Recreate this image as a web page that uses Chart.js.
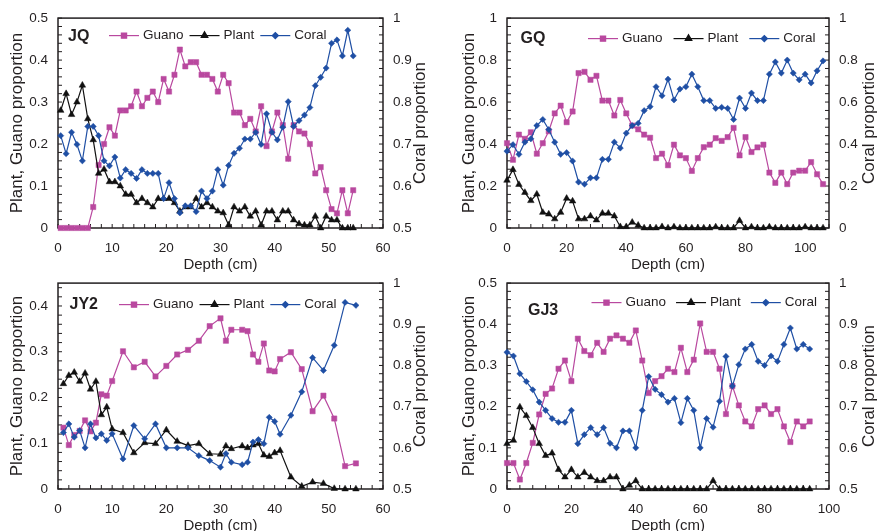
<!DOCTYPE html>
<html>
<head>
<meta charset="utf-8">
<title>Guano, plant and coral proportions by depth</title>
<script src="https://cdn.jsdelivr.net/npm/chart.js@4.4.1/dist/chart.umd.min.js"></script>
<style>
  html, body { margin: 0; padding: 0; background: #fff; }
  body { position: relative; width: 878px; height: 531px; overflow: hidden; }
  canvas { position: absolute; }
</style>
</head>
<body>
<canvas id="chartJQ" width="439" height="275" style="left:0;top:0"></canvas>
<canvas id="chartGQ" width="439" height="275" style="left:439px;top:0"></canvas>
<canvas id="chartJY2" width="439" height="280" style="left:0;top:265px"></canvas>
<canvas id="chartGJ3" width="439" height="280" style="left:439px;top:265px"></canvas>
<script>
/* ---------- data ---------- */
// JQ core, 1 cm slices
const jqDepth = [0.5, 1.5, 2.5, 3.5, 4.5, 5.5, 6.5, 7.5, 8.5, 9.5, 10.5, 11.5, 12.5, 13.5, 14.5,
  15.5, 16.5, 17.5, 18.5, 19.5, 20.5, 21.5, 22.5, 23.5, 24.5, 25.5, 26.5, 27.5, 28.5, 29.5,
  30.5, 31.5, 32.5, 33.5, 34.5, 35.5, 36.5, 37.5, 38.5, 39.5, 40.5, 41.5, 42.5, 43.5, 44.5,
  45.5, 46.5, 47.5, 48.5, 49.5, 50.5, 51.5, 52.5, 53.5, 54.5];
const jqGuano = [0, 0, 0, 0, 0, 0, 0.05, 0.15, 0.20, 0.24, 0.22, 0.28, 0.28, 0.29, 0.325,
  0.29, 0.31, 0.325, 0.30, 0.355, 0.325, 0.365, 0.425, 0.385, 0.395, 0.395, 0.365, 0.365, 0.355, 0.325,
  0.365, 0.345, 0.275, 0.275, 0.245, 0.26, 0.23, 0.29, 0.195, 0.23, 0.275, 0.245, 0.165, 0.245, 0.23,
  0.225, 0.20, 0.13, 0.145, 0.09, 0.045, 0.035, 0.09, 0.035, 0.09];
const jqPlant = [0.28, 0.32, 0.27, 0.30, 0.34, 0.26, 0.21, 0.13, 0.14, 0.11, 0.11, 0.10, 0.08, 0.08, 0.06,
  0.07, 0.06, 0.05, 0.07, 0.07, 0.07, 0.06, 0.04, 0.05, 0.05, 0.07, 0.05, 0.06, 0.05, 0.04,
  0.036, 0.007, 0.05, 0.04, 0.05, 0.028, 0.04, 0.007, 0.04, 0.04, 0.019, 0.04, 0.04, 0.019, 0.01,
  0.007, 0.007, 0.028, 0, 0.028, 0.019, 0.019, 0, 0, 0];
const jqCoral = [0.720, 0.677, 0.728, 0.699, 0.660, 0.742, 0.742, 0.720, 0.660, 0.648, 0.669, 0.619, 0.639, 0.630, 0.618,
  0.639, 0.630, 0.630, 0.630, 0.570, 0.608, 0.570, 0.536, 0.553, 0.553, 0.539, 0.588, 0.570, 0.588, 0.639,
  0.602, 0.649, 0.678, 0.690, 0.712, 0.712, 0.728, 0.699, 0.772, 0.728, 0.710, 0.740, 0.801, 0.742, 0.756,
  0.769, 0.787, 0.839, 0.859, 0.881, 0.940, 0.948, 0.910, 0.971, 0.910];

// GQ core, 2 cm slices
const gqDepth = [0, 2, 4, 6, 8, 10, 12, 14, 16, 18, 20, 22, 24, 26, 28, 30, 32, 34, 36, 38,
  40, 42, 44, 46, 48, 50, 52, 54, 56, 58, 60, 62, 64, 66, 68, 70, 72, 74, 76, 78,
  80, 82, 84, 86, 88, 90, 92, 94, 96, 98, 100, 102, 104, 106];
const gqGuano = [0.404, 0.325, 0.445, 0.425, 0.456, 0.354, 0.404, 0.461, 0.546, 0.583,
  0.504, 0.555, 0.738, 0.744, 0.706, 0.725, 0.607, 0.607, 0.536, 0.610,
  0.546, 0.488, 0.470, 0.445, 0.430, 0.333, 0.354, 0.299, 0.397, 0.346,
  0.333, 0.272, 0.333, 0.385, 0.397, 0.428, 0.415, 0.433, 0.477, 0.346,
  0.433, 0.362, 0.384, 0.397, 0.264, 0.215, 0.264, 0.209, 0.264, 0.273,
  0.273, 0.314, 0.256, 0.209];
const gqPlant = [0.227, 0.278, 0.207, 0.169, 0.130, 0.161, 0.074, 0.066, 0.043, 0.074,
  0.141, 0.128, 0.043, 0.043, 0.057, 0.038, 0.070, 0.070, 0.057, 0.006,
  0.006, 0.027, 0.013, 0, 0, 0, 0.006, 0, 0.005, 0,
  0, 0, 0, 0, 0, 0.005, 0, 0, 0, 0.035,
  0, 0.005, 0, 0, 0.005, 0, 0, 0, 0, 0,
  0.005, 0, 0, 0];
const gqCoral = [0.366, 0.397, 0.351, 0.409, 0.425, 0.488, 0.517, 0.469, 0.409, 0.351,
  0.359, 0.319, 0.219, 0.209, 0.239, 0.239, 0.327, 0.327, 0.409, 0.381,
  0.452, 0.488, 0.499, 0.559, 0.578, 0.673, 0.630, 0.709, 0.610, 0.662,
  0.673, 0.733, 0.673, 0.607, 0.607, 0.570, 0.575, 0.570, 0.517, 0.619,
  0.570, 0.643, 0.607, 0.607, 0.733, 0.791, 0.738, 0.800, 0.738, 0.706,
  0.733, 0.691, 0.749, 0.796];

// JY2 core
const jy2Depth = [1, 2, 3, 4, 5, 6, 7, 8, 9, 10, 12, 14, 16, 18, 20, 22, 24, 26, 28, 30,
  31, 32, 34, 35, 36, 37, 38, 39, 40, 41, 43, 45, 47, 49, 51, 53, 55];
const jy2Guano = [0.134, 0.096, 0.118, 0.127, 0.150, 0.126, 0.145, 0.207, 0.204, 0.236,
  0.301, 0.266, 0.278, 0.246, 0.269, 0.294, 0.304, 0.324, 0.356, 0.373,
  0.324, 0.348, 0.348, 0.345, 0.294, 0.278, 0.318, 0.259, 0.257, 0.284,
  0.299, 0.262, 0.170, 0.204, 0.154, 0.050, 0.056];
const jy2Plant = [0.230, 0.248, 0.255, 0.235, 0.253, 0.218, 0.235, 0.162, 0.179, 0.131,
  0.123, 0.079, 0.101, 0.099, 0.129, 0.104, 0.095, 0.099, 0.077, 0.076,
  0.094, 0.088, 0.094, 0.090, 0.096, 0.099, 0.074, 0.071, 0.079, 0.084,
  0.026, 0.006, 0.015, 0.012, 0.001, 0, 0];
const jy2Coral = [0.637, 0.658, 0.626, 0.642, 0.600, 0.658, 0.624, 0.634, 0.618, 0.634,
  0.573, 0.654, 0.622, 0.658, 0.600, 0.600, 0.600, 0.581, 0.569, 0.553,
  0.586, 0.565, 0.559, 0.565, 0.614, 0.620, 0.610, 0.674, 0.664, 0.633,
  0.679, 0.736, 0.819, 0.788, 0.849, 0.953, 0.946];

// GJ3 core, 2 cm slices
const gj3Depth = [0, 2, 4, 6, 8, 10, 12, 14, 16, 18, 20, 22, 24, 26, 28, 30, 32, 34, 36, 38,
  40, 42, 44, 46, 48, 50, 52, 54, 56, 58, 60, 62, 64, 66, 68, 70, 72, 74, 76, 78,
  80, 82, 84, 86, 88, 90, 92, 94];
const gj3Guano = [0.063, 0.063, 0.023, 0.063, 0.112, 0.181, 0.231, 0.244, 0.292, 0.312,
  0.262, 0.365, 0.335, 0.325, 0.355, 0.333, 0.365, 0.373, 0.365, 0.355,
  0.385, 0.312, 0.233, 0.262, 0.274, 0.292, 0.284, 0.343, 0.284, 0.314,
  0.402, 0.333, 0.333, 0.292, 0.182, 0.250, 0.203, 0.164, 0.152, 0.194,
  0.203, 0.182, 0.194, 0.152, 0.114, 0.164, 0.152, 0.164];
const gj3Plant = [0.110, 0.118, 0.199, 0.178, 0.149, 0.110, 0.081, 0.087, 0.047, 0.029,
  0.047, 0.029, 0.040, 0.029, 0.020, 0.020, 0.029, 0.029, 0, 0.009,
  0.020, 0, 0, 0, 0, 0, 0, 0, 0, 0,
  0, 0, 0.020, 0, 0, 0, 0, 0, 0, 0,
  0, 0, 0, 0, 0, 0, 0, 0];
const gj3Coral = [0.832, 0.823, 0.780, 0.761, 0.741, 0.711, 0.691, 0.671, 0.662, 0.662,
  0.691, 0.610, 0.632, 0.649, 0.632, 0.649, 0.611, 0.600, 0.641, 0.641,
  0.600, 0.691, 0.773, 0.742, 0.729, 0.711, 0.720, 0.661, 0.720, 0.691,
  0.600, 0.671, 0.650, 0.713, 0.822, 0.750, 0.802, 0.840, 0.851, 0.810,
  0.800, 0.823, 0.810, 0.851, 0.891, 0.840, 0.851, 0.840];

/* ---------- styles ---------- */
const FONT = '"Liberation Sans", Arial, Helvetica, sans-serif';
const INK = '#231f20';
const PINK = '#b9489f';
const BLACK = '#111111';
const BLUE = '#1f4fa4';
const SIDE_TITLE_SIZE = 17;

/* ---------- plugins ---------- */
// box around the plot plus short inward tick marks on three sides
const frameTicks = {
  id: 'frameTicks',
  beforeDatasetsDraw(chart, args, opts) {
    const { ctx, chartArea: a, scales } = chart;
    const len = 4;
    ctx.save();
    ctx.strokeStyle = INK;
    ctx.lineWidth = 1;
    ctx.beginPath();
    const marks = (scale, step, draw) => {
      const n = Math.round((scale.max - scale.min) / step);
      for (let i = 0; i <= n; i++) {
        const v = scale.min + i * step;
        if (v > scale.max + 1e-9) break;
        draw(scale.getPixelForValue(v));
      }
    };
    marks(scales.x, opts.xMinor, px => { ctx.moveTo(px, a.bottom); ctx.lineTo(px, a.bottom - len); });
    marks(scales.y, opts.yMinor, py => { ctx.moveTo(a.left, py); ctx.lineTo(a.left + len, py); });
    marks(scales.y2, opts.y2Minor, py => { ctx.moveTo(a.right, py); ctx.lineTo(a.right - len, py); });
    ctx.stroke();
    ctx.lineWidth = 1.5;
    ctx.strokeRect(a.left, a.top, a.right - a.left, a.bottom - a.top);
    ctx.restore();
  }
};

// legend row (line + marker + name), core name, and the coral axis title read bottom-up
const inlineLegend = {
  id: 'inlineLegend',
  afterDatasetsDraw(chart, args, opts) {
    const { ctx, chartArea: a } = chart;
    ctx.save();
    ctx.textBaseline = 'middle';
    ctx.textAlign = 'left';
    ctx.fillStyle = INK;
    ctx.font = 'bold 16px ' + FONT;
    ctx.fillText(opts.tag, a.left + opts.tagX, a.top + opts.tagY);

    ctx.font = '13.5px ' + FONT;
    let x = a.left + opts.x;
    const y = a.top + opts.y;
    [0, 1, 2].forEach(i => {
      const ds = chart.data.datasets[i];
      ctx.strokeStyle = ds.borderColor;
      ctx.lineWidth = ds.borderWidth;
      ctx.beginPath();
      ctx.moveTo(x, y);
      ctx.lineTo(x + 30, y);
      ctx.stroke();
      ctx.fillStyle = ds.backgroundColor;
      ctx.strokeStyle = ds.borderColor;
      Chart.helpers.drawPoint(ctx, {
        pointStyle: ds.pointStyle, radius: ds.pointRadius, rotation: 0, borderWidth: ds.pointBorderWidth
      }, x + 15, y);
      x += 34;
      ctx.fillStyle = INK;
      ctx.fillText(ds.label, x, y);
      x += ctx.measureText(ds.label).width + opts.gap;
    });

    ctx.font = SIDE_TITLE_SIZE + 'px ' + FONT;
    ctx.textAlign = 'center';
    ctx.translate(a.right + opts.coralTitleX, (a.top + a.bottom) / 2);
    ctx.rotate(-Math.PI / 2);
    ctx.fillText('Coral proportion', 0, 0);
    ctx.restore();
  }
};

/* ---------- helpers ---------- */
function points(depth, values) {
  return depth.map((d, i) => ({ x: d, y: values[i] }));
}

const plainNumber = v => String(Math.round(v * 100) / 100);

function buildPanel(id, p) {
  const tickFont = { family: FONT, size: 13.5 };
  const common = { borderWidth: 1.2, pointBorderWidth: 0.5, tension: 0, clip: false };

  return new Chart(document.getElementById(id), {
    type: 'line',
    data: {
      datasets: [
        { ...common, label: 'Guano', data: points(p.depth, p.guano), yAxisID: 'y', order: 2,
          borderColor: PINK, backgroundColor: PINK, pointStyle: 'rect', pointRadius: 3.7 },
        { ...common, label: 'Plant', data: points(p.depth, p.plant), yAxisID: 'y', order: 1,
          borderColor: BLACK, backgroundColor: BLACK, pointStyle: 'triangle', pointRadius: 3.8 },
        { ...common, label: 'Coral', data: points(p.depth, p.coral), yAxisID: 'y2', order: 0,
          borderColor: BLUE, backgroundColor: BLUE, pointStyle: 'rectRot', pointRadius: 3.1 }
      ]
    },
    options: {
      responsive: false,
      animation: false,
      events: [],
      layout: { padding: { top: p.padTop, left: 0, right: 0, bottom: 0 } },
      plugins: {
        legend: { display: false },
        tooltip: { enabled: false },
        frameTicks: { xMinor: p.xMinor, yMinor: p.yMinor, y2Minor: p.y2Minor },
        inlineLegend: p.legend
      },
      scales: {
        x: {
          type: 'linear', min: 0, max: p.xMax,
          grid: { display: false, drawTicks: false }, border: { display: false },
          ticks: { stepSize: p.xStep, includeBounds: false, font: tickFont, color: INK, padding: 12,
            maxRotation: 0, callback: plainNumber },
          title: { display: true, text: 'Depth (cm)', font: { family: FONT, size: 15 }, color: INK,
            padding: { top: 0, bottom: p.xTitlePad } },
          afterFit: s => { s.height = p.xHeight; }
        },
        y: {
          position: 'left', min: 0, max: p.yMax,
          grid: { display: false, drawTicks: false }, border: { display: false },
          ticks: { stepSize: p.yStep, includeBounds: false, font: tickFont, color: INK, padding: 10,
            callback: plainNumber },
          title: { display: true, text: 'Plant, Guano proportion', font: { family: FONT, size: SIDE_TITLE_SIZE },
            color: INK, padding: { top: p.yTitlePad, bottom: 0 } },
          afterFit: s => { s.width = p.leftWidth; }
        },
        y2: {
          position: 'right', min: p.coralMin, max: 1,
          grid: { display: false, drawTicks: false }, border: { display: false },
          ticks: { stepSize: p.coralStep, includeBounds: false, font: tickFont, color: INK, padding: 10,
            callback: plainNumber },
          title: { display: false },
          afterFit: s => { s.width = p.rightWidth; }
        }
      }
    },
    plugins: [frameTicks, inlineLegend]
  });
}

/* ---------- panels ---------- */
buildPanel('chartJQ', {
  depth: jqDepth, guano: jqGuano, plant: jqPlant, coral: jqCoral,
  xMax: 60, xStep: 10, xMinor: 2, yMax: 0.5, yStep: 0.1, yMinor: 0.02,
  coralMin: 0.5, coralStep: 0.1, y2Minor: 0.02,
  padTop: 17, leftWidth: 58, rightWidth: 56, xHeight: 47, xTitlePad: 1, yTitlePad: 7,
  legend: { tag: 'JQ', tagX: 10, tagY: 18, x: 51, y: 17.5, gap: 6, coralTitleX: 37 }
});

buildPanel('chartGQ', {
  depth: gqDepth, guano: gqGuano, plant: gqPlant, coral: gqCoral,
  xMax: 108, xStep: 20, xMinor: 4, yMax: 1, yStep: 0.2, yMinor: 0.04,
  coralMin: 0, coralStep: 0.2, y2Minor: 0.04,
  padTop: 17, leftWidth: 68, rightWidth: 49, xHeight: 47, xTitlePad: 1, yTitlePad: 20,
  legend: { tag: 'GQ', tagX: 13.5, tagY: 20.5, x: 81, y: 20.5, gap: 11, coralTitleX: 40 }
});

buildPanel('chartJY2', {
  depth: jy2Depth, guano: jy2Guano, plant: jy2Plant, coral: jy2Coral,
  xMax: 60, xStep: 10, xMinor: 2, yMax: 0.45, yStep: 0.1, yMinor: 0.02,
  coralMin: 0.5, coralStep: 0.1, y2Minor: 0.02,
  padTop: 13, leftWidth: 58, rightWidth: 56, xHeight: 56, xTitlePad: 10, yTitlePad: 7,
  legend: { tag: 'JY2', tagX: 11.5, tagY: 21.5, x: 61, y: 21.5, gap: 6, coralTitleX: 37 }
});

buildPanel('chartGJ3', {
  depth: gj3Depth, guano: gj3Guano, plant: gj3Plant, coral: gj3Coral,
  xMax: 100, xStep: 20, xMinor: 4, yMax: 0.5, yStep: 0.1, yMinor: 0.02,
  coralMin: 0.5, coralStep: 0.1, y2Minor: 0.02,
  padTop: 13, leftWidth: 68, rightWidth: 49, xHeight: 56, xTitlePad: 10, yTitlePad: 20,
  legend: { tag: 'GJ3', tagX: 21, tagY: 27, x: 84.5, y: 19.5, gap: 10, coralTitleX: 40 }
});
</script>
</body>
</html>
